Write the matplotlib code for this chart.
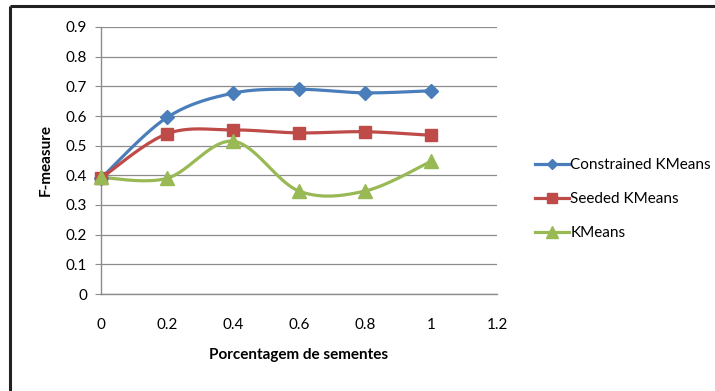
import numpy as np
import matplotlib
matplotlib.use("Agg")
import matplotlib.pyplot as plt
from matplotlib.lines import Line2D

plt.rcParams['font.family'] = ['Lato', 'DejaVu Sans']

# Seed percentage and F-measure for each method
seeds = [0, 0.2, 0.4, 0.6, 0.8, 1]
constrained_kmeans = [0.39, 0.595, 0.677, 0.690, 0.678, 0.685]
seeded_kmeans = [0.39, 0.540, 0.553, 0.543, 0.547, 0.535]
kmeans = [0.393, 0.390, 0.515, 0.347, 0.347, 0.447]

series_names = ["Constrained KMeans", "Seeded KMeans", "KMeans"]
x_ticks = [0, 0.2, 0.4, 0.6, 0.8, 1, 1.2]
y_ticks = [0, 0.1, 0.2, 0.3, 0.4, 0.5, 0.6, 0.7, 0.8, 0.9]


def smooth_curve(xs, ys, n=40):
    """Catmull-Rom style cubic Bezier smoothing through every point."""
    p = np.column_stack([xs, ys]).astype(float)
    ext = np.vstack([p[0], p, p[-1]])
    out = []
    t = np.linspace(0, 1, n)[:, None]
    for i in range(len(p) - 1):
        p0, p1, p2, p3 = ext[i], ext[i + 1], ext[i + 2], ext[i + 3]
        c1 = p1 + (p2 - p0) / 6.0
        c2 = p2 - (p3 - p1) / 6.0
        seg = ((1 - t) ** 3) * p1 + 3 * ((1 - t) ** 2) * t * c1 \
            + 3 * (1 - t) * t ** 2 * c2 + t ** 3 * p2
        out.append(seg if i == 0 else seg[1:])
    pts = np.vstack(out)
    return pts[:, 0], pts[:, 1]


fig = plt.figure(figsize=(7.15, 3.91), dpi=100)
fig.patch.set_facecolor("white")

# outer frame (top and left edges)
fig.add_artist(Line2D([10 / 715, 10 / 715], [0, 1 - 6 / 391], transform=fig.transFigure,
                      color="#222222", lw=2.2, solid_capstyle="butt"))
fig.add_artist(Line2D([10 / 715, 1], [1 - 6 / 391, 1 - 6 / 391], transform=fig.transFigure,
                      color="#222222", lw=2.2, solid_capstyle="butt"))

ax = fig.add_axes([101 / 715, 1 - 294 / 391, (497 - 101) / 715, (294 - 27) / 391])

styles = [
    (constrained_kmeans, "#4A7EBB", "D", 7),
    (seeded_kmeans, "#BE4B48", "s", 9),
    (kmeans, "#98B954", "^", 10),
]

handles = []
for (vals, color, marker, ms), name in zip(styles, series_names):
    sx, sy = smooth_curve(seeds, vals)
    ax.plot(sx, sy, color=color, lw=2.3, zorder=3, solid_capstyle="round")
    ax.plot(seeds, vals, linestyle="none", marker=marker, markersize=ms,
            color=color, markeredgecolor=color, zorder=4, clip_on=False)
    handles.append(Line2D([], [], color=color, lw=2.3, marker=marker,
                          markersize=ms * 0.8, markeredgecolor=color, label=name))

ax.set_xlim(0, 1.2)
ax.set_ylim(0, 0.9)
ax.set_xticks(x_ticks)
ax.set_xticklabels(["0", "0.2", "0.4", "0.6", "0.8", "1", "1.2"])
ax.set_yticks(y_ticks)
ax.set_yticklabels(["0", "0.1", "0.2", "0.3", "0.4", "0.5", "0.6", "0.7", "0.8", "0.9"])

ax.grid(axis="y", color="#8C8C8C", lw=0.9)
ax.set_axisbelow(True)
for side in ["top", "right"]:
    ax.spines[side].set_visible(False)
for side in ["left", "bottom"]:
    ax.spines[side].set_color("#8C8C8C")
    ax.spines[side].set_linewidth(1.0)

ax.tick_params(axis="x", length=0, pad=17, labelsize=11, colors="#000000")
ax.tick_params(axis="y", length=4, pad=6, labelsize=11, color="#8C8C8C", labelcolor="#000000")

ax.set_xlabel("Porcentagem de sementes", fontsize=11, fontweight="bold", labelpad=12)
ax.set_ylabel("F-measure", fontsize=11, fontweight="bold", labelpad=9)

fig.legend(handles=handles, loc="center left", bbox_to_anchor=(529 / 715, 1 - 199 / 391),
           frameon=False, fontsize=11, handlelength=2.2, handletextpad=0.1,
           labelspacing=1.3, borderaxespad=0)

fig.savefig("out.png", dpi=100, facecolor="white")
